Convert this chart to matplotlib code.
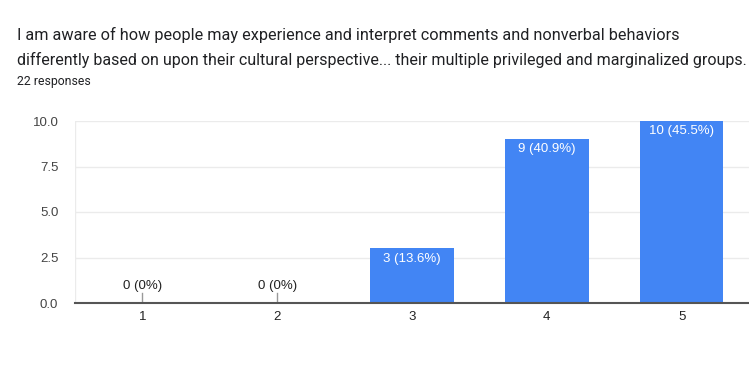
import matplotlib
matplotlib.use("Agg")
import matplotlib.pyplot as plt

categories = ["1", "2", "3", "4", "5"]
counts = [0, 0, 3, 9, 10]
total = 22
yticks = [0.0, 2.5, 5.0, 7.5, 10.0]
title_lines = ["I am aware of how people may experience and interpret comments and nonverbal behaviors",
               "differently based on upon their cultural perspective... their multiple privileged and marginalized groups."]
subtitle = "22 responses"

W, H = 749, 381
fig = plt.figure(figsize=(W / 100, H / 100), dpi=100)
ax = fig.add_axes([75 / W, (H - 303) / H, (749 - 75) / W, (303 - 121) / H])

x = list(range(1, len(categories) + 1))
bar_color = "#4285F4"
ax.bar(x, counts, width=0.62, color=bar_color, zorder=3)

ax.set_xlim(0.5, 5.5)
ax.set_ylim(0, 10)
ax.set_yticks(yticks)
ax.set_yticklabels([f"{v:.1f}" for v in yticks], fontsize=9.5, color="#444444", family="Liberation Sans")
ax.set_xticks(x)
ax.set_xticklabels(categories, fontsize=9.5, color="#222222", family="Liberation Sans")
ax.tick_params(axis="both", length=0, pad=6)
ax.tick_params(axis="y", pad=12)
ax.grid(axis="y", color="#ebebeb", linewidth=1, zorder=0)
for s in ["top", "right", "left"]:
    ax.spines[s].set_visible(False)
ax.spines["bottom"].set_color("#555555")
ax.spines["bottom"].set_linewidth(1.5)
ax.spines["bottom"].set_zorder(4)
ax.axvline(0.5, color="#ebebeb", linewidth=1, zorder=0)

for xi, c in zip(x, counts):
    pct = c / total * 100
    lab = f"{c} ({pct:.1f}%)" if c else f"{c} (0%)"
    if c > 0:
        ax.annotate(lab, (xi, c), xytext=(0, -3), textcoords="offset points",
                    ha="center", va="top", color="white", fontsize=9.5,
                    family="Liberation Sans", zorder=5)
    else:
        ax.plot([xi, xi], [0, 0.55], color="#999999", linewidth=1, zorder=4)
        ax.annotate(lab, (xi, 0.55), xytext=(0, 1), textcoords="offset points",
                    ha="center", va="bottom", color="#222222", fontsize=9.5,
                    family="Liberation Sans", zorder=5)

fig.text(17 / W, 1 - 35 / H, title_lines[0], fontsize=11.7, family="Roboto",
         color="#202124", ha="left", va="center")
fig.text(17 / W, 1 - 60 / H, title_lines[1], fontsize=11.55, family="Roboto",
         color="#202124", ha="left", va="center")
fig.text(17 / W, 1 - 82 / H, subtitle, fontsize=8.8, family="Roboto",
         color="#202124", ha="left", va="center")

fig.savefig("out.png", dpi=100)
